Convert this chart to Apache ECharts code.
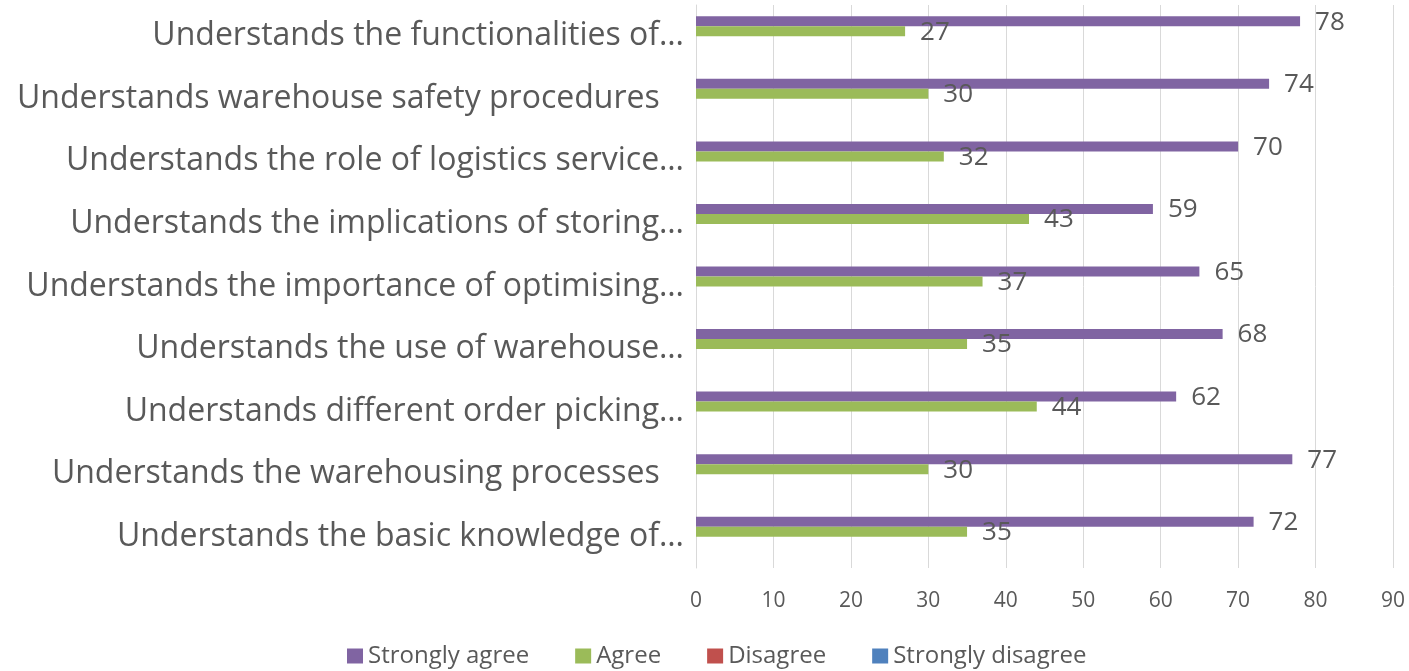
<!DOCTYPE html>
<html>
<head>
<meta charset="utf-8">
<style>
html,body{margin:0;padding:0;background:#fff;}
#chart{width:1409px;height:671px;}
</style>
<script src="https://cdn.jsdelivr.net/npm/echarts@6/dist/echarts.min.js"></script>
</head>
<body>
<div id="chart"></div>
<script>
// Categories listed top to bottom as they appear in the chart
const categories = [
  "Understands the functionalities of…",
  "Understands warehouse safety procedures ",
  "Understands the role of logistics service…",
  "Understands the implications of storing…",
  "Understands the importance of optimising…",
  "Understands the use of warehouse…",
  "Understands different order picking…",
  "Understands the warehousing processes ",
  "Understands the basic knowledge of…"
];
const seriesNames = ["Strongly agree", "Agree", "Disagree", "Strongly disagree"];
const stronglyAgree = [78, 74, 70, 59, 65, 68, 62, 77, 72];
const agree = [27, 30, 32, 43, 37, 35, 44, 30, 35];
const disagree = [null, null, null, null, null, null, null, null, null];
const stronglyDisagree = [null, null, null, null, null, null, null, null, null];
const xTicks = { min: 0, max: 90, interval: 10 };

const colors = ["#8064A2", "#9BBB59", "#C0504D", "#4F81BD"];
const values = [stronglyAgree, agree, disagree, stronglyDisagree];
const FONT = "Open Sans";
const TXT = "#595959";

const chart = echarts.init(document.getElementById('chart'), null, { renderer: 'canvas' });
chart.setOption({
  animation: false,
  backgroundColor: '#ffffff',
  textStyle: { fontFamily: FONT, color: TXT },
  grid: { left: 696, right: 16, top: 5, bottom: 103, containLabel: false },
  legend: {
    data: seriesNames,
    left: 342,
    top: 639,
    itemWidth: 16,
    itemHeight: 15,
    itemGap: 46,
    icon: 'rect',
    textStyle: { fontFamily: FONT, fontSize: 24, color: TXT }
  },
  xAxis: {
    type: 'value',
    min: xTicks.min, max: xTicks.max, interval: xTicks.interval,
    axisLine: { show: false },
    axisTick: { show: false },
    splitLine: { show: true, lineStyle: { color: '#d9d9d9', width: 1 } },
    axisLabel: { fontFamily: FONT, fontSize: 21, color: TXT, margin: 23 }
  },
  yAxis: {
    type: 'category',
    inverse: true,
    data: categories,
    axisLine: { show: true, lineStyle: { color: '#d9d9d9', width: 1 } },
    axisTick: { show: false },
    axisLabel: {
      fontFamily: FONT, fontSize: 32, color: TXT, margin: 12,
      formatter: v => v.endsWith(' ') ? '{p|' + v + '}' : v,
      rich: { p: { fontFamily: FONT, fontSize: 32, color: TXT, padding: [0, 16, 0, 0] } }
    }
  },
  series: seriesNames.map((name, i) => ({
    name: name,
    type: 'bar',
    data: values[i],
    barWidth: 10,
    barGap: '0%',
    itemStyle: { color: colors[i] },
    label: {
      show: true,
      position: 'right',
      distance: 15,
      offset: [0, 1],
      fontFamily: FONT,
      fontSize: 26,
      color: TXT
    }
  }))
});
</script>
</body>
</html>
